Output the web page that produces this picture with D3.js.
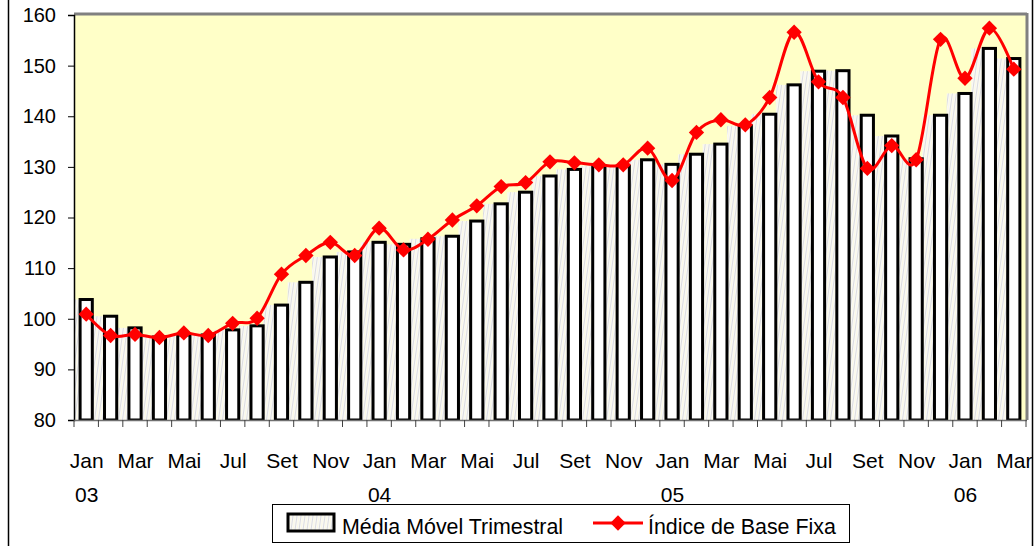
<!doctype html>
<html lang="pt">
<head>
<meta charset="utf-8">
<title>Média Móvel Trimestral e Índice de Base Fixa</title>
<style>
  body { margin: 0; background: #fff; font-family: "Liberation Sans", Arial, sans-serif; }
  svg text { font-family: "Liberation Sans", Arial, sans-serif; fill: #000; }
</style>
</head>
<body>
<svg id="chart" width="1035" height="546"></svg>
<script src="https://d3js.org/d3.v7.min.js"></script>
<script>
// categories: months Jan 03 .. Mar 06
const months = ["Jan","Fev","Mar","Abr","Mai","Jun","Jul","Ago","Set","Out","Nov","Dez",
                "Jan","Fev","Mar","Abr","Mai","Jun","Jul","Ago","Set","Out","Nov","Dez",
                "Jan","Fev","Mar","Abr","Mai","Jun","Jul","Ago","Set","Out","Nov","Dez",
                "Jan","Fev","Mar"];
const years = ["03","04","05","06"];

const mediaMovel = [103.8,100.5,98.2,96.4,96.8,96.8,97.8,98.6,102.7,107.2,112.2,113.2,
                    115.1,114.7,115.8,116.3,119.3,122.7,125.0,128.2,129.5,130.2,130.1,131.4,
                    130.5,132.5,134.5,138.1,140.4,146.2,148.9,149.0,140.2,136.1,131.6,140.2,
                    144.5,153.4,151.4];
const indiceBase = [100.9,96.7,96.9,96.3,97.2,96.7,99.1,100.1,108.8,112.5,115.1,112.5,
                    117.9,113.6,115.7,119.5,122.3,126.1,126.9,131.0,130.8,130.4,130.4,133.7,
                    127.3,136.8,139.3,138.3,143.7,156.6,146.8,143.7,129.7,134.2,131.4,155.2,
                    147.5,157.4,149.3];
const yTicks = [80,90,100,110,120,130,140,150,160];

const svg = d3.select("#chart");
const pLeft = 74, pRight = 1026, pTop = 15, pBottom = 420;

const x = d3.scaleBand().domain(d3.range(months.length)).range([pLeft, pRight]);
const y = d3.scaleLinear().domain([80, 160]).range([pBottom, pTop]);
const bw = x.bandwidth() * 0.5;

// hatch pattern for the bar fill
const defs = svg.append("defs");
const pat = defs.append("pattern").attr("id", "hatch")
  .attr("patternUnits", "userSpaceOnUse").attr("width", 4).attr("height", 12)
  .attr("patternTransform", "skewX(-8)");
pat.append("rect").attr("width", 4).attr("height", 12).attr("fill", "#f8f8f8");
pat.append("rect").attr("x", 1).attr("width", 1).attr("height", 12).attr("fill", "#dcdcdc");
pat.append("rect").attr("x", 3).attr("width", 0.6).attr("height", 12).attr("fill", "#fffbd8");

defs.append("clipPath").attr("id", "plotclip")
  .append("rect").attr("x", pLeft).attr("y", pTop).attr("width", pRight - pLeft).attr("height", pBottom - pTop);

// outer chart border
svg.append("line").attr("x1", 8.5).attr("x2", 8.5).attr("y1", 0).attr("y2", 546)
  .attr("stroke", "#000").attr("stroke-width", 1.5);
svg.append("line").attr("x1", 1032.5).attr("x2", 1032.5).attr("y1", 0).attr("y2", 546)
  .attr("stroke", "#000").attr("stroke-width", 1.5);

// plot area
svg.append("rect").attr("x", pLeft).attr("y", pTop).attr("width", pRight - pLeft).attr("height", pBottom - pTop)
  .attr("fill", "#ffffc8");

const plot = svg.append("g").attr("clip-path", "url(#plotclip)");

// hatched "shadow" fill of each bar
plot.selectAll("rect.shade").data(mediaMovel).join("rect")
  .attr("class", "shade")
  .attr("x", (d, i) => x(i) + (x.bandwidth() - bw) / 2 - bw)
  .attr("y", d => y(d))
  .attr("width", bw * 2)
  .attr("height", d => pBottom - y(d))
  .attr("fill", "url(#hatch)");

// bar outlines
plot.selectAll("rect.bar").data(mediaMovel).join("rect")
  .attr("class", "bar")
  .attr("x", (d, i) => x(i) + (x.bandwidth() - bw) / 2)
  .attr("y", d => y(d))
  .attr("width", bw)
  .attr("height", d => pBottom - y(d))
  .attr("fill", "#fff")
  .attr("stroke", "#000")
  .attr("stroke-width", 3);

// borders of the plot area
svg.append("line").attr("x1", pLeft).attr("x2", pRight + 1).attr("y1", pTop - 1).attr("y2", pTop - 1)
  .attr("stroke", "#808080").attr("stroke-width", 3);
svg.append("line").attr("x1", pRight + 1).attr("x2", pRight + 1).attr("y1", pTop - 2).attr("y2", pBottom)
  .attr("stroke", "#808080").attr("stroke-width", 3);

// y axis
const yAxis = svg.append("g").attr("transform", `translate(${pLeft},0)`)
  .call(d3.axisLeft(y).tickValues(yTicks).tickSize(6).tickPadding(12));
yAxis.select(".domain").attr("stroke", "#000").attr("stroke-width", 1.5);
yAxis.selectAll(".tick line").attr("stroke", "#000");
yAxis.selectAll(".tick text").attr("font-size", 20).attr("font-family", "Liberation Sans, Arial, sans-serif");

// x axis: line and ticks at band boundaries
const xg = svg.append("g");
xg.append("line").attr("x1", pLeft).attr("x2", pRight + 1).attr("y1", pBottom + 0.5).attr("y2", pBottom + 0.5)
  .attr("stroke", "#707070").attr("stroke-width", 1.5);
xg.selectAll("line.tk").data(d3.range(months.length + 1)).join("line")
  .attr("class", "tk")
  .attr("x1", i => i < months.length ? x(i) : pRight)
  .attr("x2", i => i < months.length ? x(i) : pRight)
  .attr("y1", pBottom).attr("y2", pBottom + 7)
  .attr("stroke", "#404040").attr("stroke-width", 1);
xg.selectAll("text.mon").data(months.map((m, i) => ({ m, i })).filter(d => d.i % 2 === 0)).join("text")
  .attr("class", "mon")
  .attr("x", d => x(d.i) + x.bandwidth() / 2 + 0.5)
  .attr("y", 468)
  .attr("text-anchor", "middle")
  .attr("font-size", 21)
  .text(d => d.m);
xg.selectAll("text.yr").data(years).join("text")
  .attr("class", "yr")
  .attr("x", (d, k) => x(k * 12) + x.bandwidth() / 2 + 0.5)
  .attr("y", 502)
  .attr("text-anchor", "middle")
  .attr("font-size", 21)
  .text(d => d);

// line series
const line = d3.line()
  .x((d, i) => x(i) + x.bandwidth() / 2)
  .y(d => y(d))
  .curve(d3.curveCardinal.tension(0));
svg.append("path").datum(indiceBase)
  .attr("d", line)
  .attr("fill", "none")
  .attr("stroke", "#ff0000")
  .attr("stroke-width", 3);

const diamond = d3.symbol().type(d3.symbolDiamond2).size(150);
svg.selectAll("path.mk").data(indiceBase).join("path")
  .attr("class", "mk")
  .attr("transform", (d, i) => `translate(${x(i) + x.bandwidth() / 2},${y(d)})`)
  .attr("d", diamond)
  .attr("fill", "#ff0000");

// legend
const lg = svg.append("g");
lg.append("rect").attr("x", 272.5).attr("y", 504.5).attr("width", 577).attr("height", 38)
  .attr("fill", "#fff").attr("stroke", "#000").attr("stroke-width", 1);
lg.append("rect").attr("x", 288).attr("y", 514).attr("width", 46).attr("height", 17)
  .attr("fill", "url(#hatch)").attr("stroke", "#000").attr("stroke-width", 3);
lg.append("text").attr("x", 342).attr("y", 534).attr("font-size", 21.4).text("Média Móvel Trimestral");
lg.append("line").attr("x1", 593).attr("x2", 643).attr("y1", 523).attr("y2", 523)
  .attr("stroke", "#ff0000").attr("stroke-width", 3);
lg.append("path").attr("transform", "translate(618,523)").attr("d", diamond).attr("fill", "#ff0000");
lg.append("text").attr("x", 648).attr("y", 534).attr("font-size", 21.4).text("Índice de Base Fixa");
</script>
</body>
</html>
